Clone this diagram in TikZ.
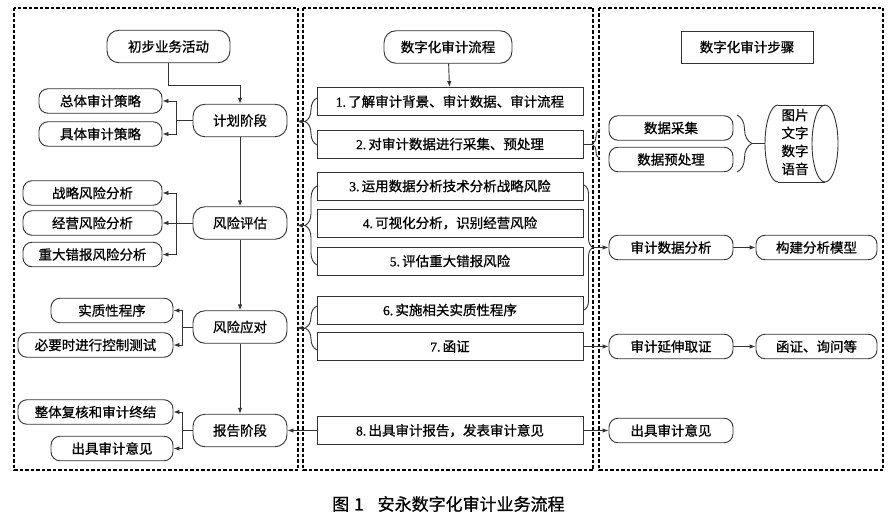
\documentclass[tikz,border=0pt]{standalone}
\usepackage{fontspec}
\setmainfont{Noto Sans CJK SC}[FakeBold=0.8]
\newfontfamily\lat{Liberation Serif}[FakeBold=0.8]
\usetikzlibrary{arrows.meta,decorations.pathreplacing,calc}
\definecolor{linec}{HTML}{333333}
\begin{document}
\begin{tikzpicture}[x=1pt,y=-1pt,
  font=\fontsize{13.5}{16}\selectfont,
  every node/.style={text=black},
  rnd/.style={draw=linec,line width=0.9pt,rounded corners=9pt,inner sep=0pt,minimum height=24.5pt},
  rndbig/.style={draw=linec,line width=0.9pt,rounded corners=12pt,inner sep=0pt,minimum height=32.5pt},
  sq/.style={draw=linec,line width=0.9pt,rectangle,inner sep=0pt,minimum width=266pt,minimum height=28pt},
  colbox/.style={draw=black,line width=1.2pt,dash pattern=on 3.5pt off 2pt},
  arr/.style={draw=linec,line width=0.9pt,-{Latex[length=6pt,width=4.5pt]}},
  ln/.style={draw=linec,line width=0.9pt},
  brc/.style={draw=linec,line width=0.9pt,decorate},
]
\useasboundingbox (0,0) rectangle (896,516);
\fill[white] (0,0) rectangle (896,516);
% column frames
\draw[colbox] (14,8) rectangle (298,470);
\draw[colbox] (303,8) rectangle (593,470);
\draw[colbox] (599,8) rectangle (883,470);

% left column
\node[rndbig,minimum width=123pt] (cb) at (168.5,46.5) {初步业务活动};
\node[rndbig,minimum width=94pt] (jh) at (240,120.5) {计划阶段};
\node[rnd,minimum width=123pt] (zt) at (100.5,101) {总体审计策略};
\node[rnd,minimum width=123pt] (jt) at (100.5,134) {具体审计策略};
\node[rndbig,minimum width=94pt] (fx) at (240,223) {风险评估};
\node[rnd,minimum width=139pt] (zl) at (92.5,193) {战略风险分析};
\node[rnd,minimum width=139pt] (jy) at (92.5,223) {经营风险分析};
\node[rnd,minimum width=139pt] (zd) at (92.5,254.5) {重大错报风险分析};
\node[rndbig,minimum width=94pt] (yd) at (240,327) {风险应对};
\node[rnd,minimum width=122pt] (sz) at (112,310.5) {实质性程序};
\node[rnd,minimum width=155pt] (kz) at (95.5,345) {必要时进行控制测试};
\node[rndbig,minimum width=94pt] (bg) at (240,430.5) {报告阶段};
\node[rnd,minimum width=155pt] (zj) at (95.5,412) {整体复核和审计终结};
\node[rnd,minimum width=122pt] (yj) at (112,448.5) {出具审计意见};

\draw[arr] (cb.south) -- ++(0,22) -| (jh.north);
\draw[arr] (jh) -- (fx);
\draw[arr] (fx) -- (yd);
\draw[arr] (yd) -- (bg);

\draw[ln] (jh.west) -- ++(-16,0) coordinate (jhb);
\draw[arr] (jhb) |- (zt.east);
\draw[arr] (jhb) |- (jt.east);
\draw[ln] (fx.west) -- ++(-16,0) coordinate (fxb);
\draw[arr] (fxb) |- (zl.east);
\draw[arr] (fxb) -- (jy.east);
\draw[arr] (fxb) |- (zd.east);
\draw[ln] (yd.west) -- ++(-10,0) coordinate (ydb);
\draw[arr] (ydb) |- (sz.east);
\draw[arr] (ydb) |- (kz.east);
\draw[ln] (bg.west) -- ++(-10,0) coordinate (bgb);
\draw[arr] (bgb) |- (zj.east);
\draw[arr] (bgb) |- (yj.east);

% middle column
\node[rndbig,minimum width=128pt] (lc) at (448,47) {数字化审计流程};
\node[sq] (b1) at (450,101.5) {{\lat 1.\,}了解审计背景、审计数据、审计流程};
\node[sq] (b2) at (450,144) {{\lat 2.\,}对审计数据进行采集、预处理};
\node[sq] (b3) at (450,186) {{\lat 3.\,}运用数据分析技术分析战略风险};
\node[sq] (b4) at (450,223) {{\lat 4.\,}可视化分析，识别经营风险};
\node[sq] (b5) at (450,261) {{\lat 5.\,}评估重大错报风险};
\node[sq] (b6) at (450,310) {{\lat 6.\,}实施相关实质性程序};
\node[sq] (b7) at (450,346.5) {{\lat 7.\,}函证};
\node[sq] (b8) at (450,430.5) {{\lat 8.\,}出具审计报告，发表审计意见};
\draw[arr] (lc) -- (b1);

% left braces of middle column
\draw[brc,decoration={brace,amplitude=12pt}] (317,145) -- (317,98);
\coordinate (t1) at (305,121.5);
\coordinate (t1e) at (297,121.5);
\draw[arr] (t1) -- (t1e);
\draw[brc,decoration={brace,amplitude=12pt}] (317,265) -- (317,186);
\coordinate (t2) at (305,225.5);
\coordinate (t2e) at (297,225.5);
\draw[arr] (t2) -- (t2e);
\draw[brc,decoration={brace,amplitude=12pt}] (317,350) -- (317,306);
\coordinate (t3) at (305,328);
\coordinate (t3e) at (297,328);
\draw[arr] (t3) -- (t3e);
\draw[arr] (b8) -- (bg);

% right column
\node[draw=linec,line width=0.9pt,inner sep=0pt,minimum width=132pt,minimum height=32pt] (bz) at (747,47) {数字化审计步骤};
\node[rnd,minimum width=124pt] (cj) at (671,128) {数据采集};
\node[rnd,minimum width=124pt] (yc) at (671,159.5) {数据预处理};
\node[rnd,minimum width=124pt] (fx2) at (671,247.5) {审计数据分析};
\node[rnd,minimum width=121pt] (mx) at (816.5,247.5) {构建分析模型};
\node[rnd,minimum width=124pt] (yq) at (671,346.5) {审计延伸取证};
\node[rnd,minimum width=121pt] (hz) at (816.5,346.5) {函证、询问等};
\node[rnd,minimum width=124pt] (cy) at (671,430.5) {出具审计意见};

% cylinder
\node[minimum width=73pt,minimum height=77pt,inner sep=0pt] (cyl) at (801.5,143.5) {};
\draw[ln] (778,105) -- (825,105);
\draw[ln] (778,182) -- (825,182);
\draw[ln] (778,105) arc[start angle=-90,end angle=-270,x radius=13,y radius=38.5];
\draw[ln] (825,143.5) ellipse[x radius=13,y radius=38.5];
\node[align=center,inner sep=0pt,font=\fontsize{13.5}{18}\selectfont] (cyt) at (795,142) {图片\\文字\\数字\\语音};

% braces to right column
\draw[brc,decoration={brace,amplitude=8pt}] (600,159) -- (600,129);
\coordinate (t4) at (592,144);
\draw[ln] (b2.east) -- (t4);
\draw[brc,decoration={brace,amplitude=9pt}] (584,185) -- (584,310);
\coordinate (t5) at (593,247.5);
\draw[arr] (t5) -- (fx2.west);
\draw[brc,decoration={brace,amplitude=15pt}] (737,115) -- (737,172);
\coordinate (t6) at (752,143.5);
\draw[ln] (t6) -- (cyl.west);
\draw[arr] (b7) -- (yq);
\draw[arr] (b8) -- (cy);
\draw[arr] (fx2) -- (mx);
\draw[arr] (yq) -- (hz);

% caption
\node[font=\fontsize{17}{19}\selectfont,anchor=west,inner sep=0pt] (cap) at (332,504) {图\hspace{5pt}1\hspace{14pt}安永数字化审计业务流程};
\end{tikzpicture}
\end{document}
